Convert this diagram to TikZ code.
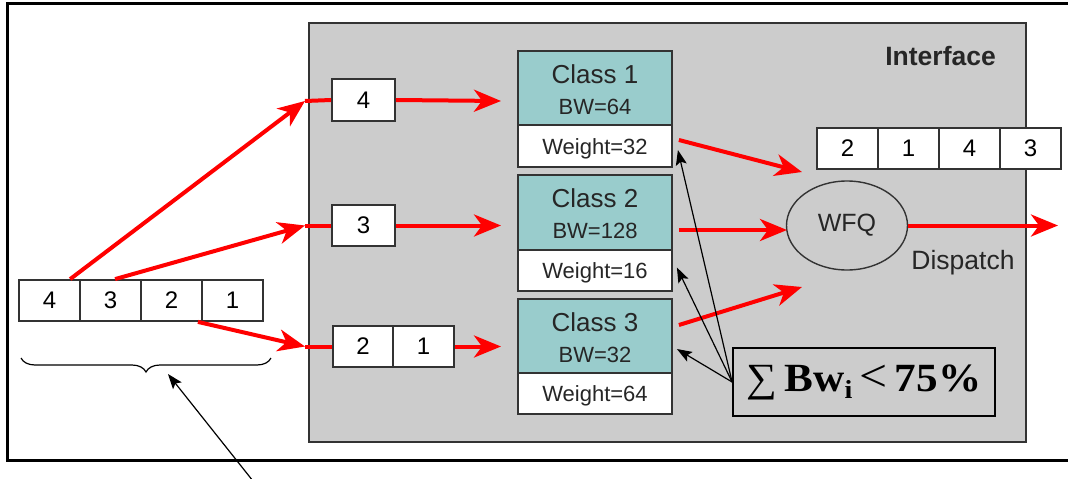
\documentclass[tikz,border=0pt]{standalone}
\usepackage{fontspec}
\setmainfont{Liberation Sans}
\newfontfamily\sumfont{Liberation Serif}
\usetikzlibrary{arrows.meta,decorations.pathreplacing,shapes.geometric,calc}
\definecolor{ifgray}{HTML}{CCCCCC}
\definecolor{teal2}{HTML}{99CCCC}
\definecolor{bord}{HTML}{333333}
\begin{document}
\begin{tikzpicture}[x=1pt,y=-1pt,
  cell/.style={draw=bord,line width=1.8pt,fill=white,inner sep=0pt,minimum width=61pt,minimum height=41pt,font=\fontsize{24}{26}\selectfont},
  tealbox/.style={draw=bord,line width=1.8pt,fill=teal2,inner sep=0pt,minimum width=154pt},
  wbox/.style={draw=bord,line width=1.8pt,fill=white,inner sep=0pt,minimum width=154pt,minimum height=41pt},
  ctext/.style={anchor=base,inner sep=0pt,font=\fontsize{26}{28}\selectfont,text=black!85},
  stext/.style={anchor=base,inner sep=0pt,font=\fontsize{22}{24}\selectfont,text=black!85},
  redarrow/.style={draw=red,line width=4pt,-{Stealth[length=27pt,width=22pt,inset=8pt]}},
  redline/.style={draw=red,line width=4pt},
  blackarrow/.style={draw=black,line width=1.2pt,-{Stealth[length=15pt,width=11pt,inset=3pt]}}
]
\useasboundingbox (0,0) rectangle (1068,479);
% outer frame (right side beyond the picture)
\draw[line width=2.5pt] (1068,3.5) -- (7.5,3.5) -- (7.5,460.5) -- (1068,460.5);
% interface box
\draw[draw=bord,line width=2pt,fill=ifgray] (309,22.5) rectangle (1026,441.5);
\node[anchor=base east,inner sep=0pt,font=\bfseries\fontsize{26.5}{28}\selectfont,text=black!85] (iflabel) at (996,65) {Interface};

% left queue
\node[cell] (q4) at (49.5,300.5) {4};
\node[cell] (q3) at (110.5,300.5) {3};
\node[cell] (q2) at (171.5,300.5) {2};
\node[cell] (q1) at (232.5,300.5) {1};

% brace and arrow to it
\draw[line width=1.2pt,decorate,decoration={brace,mirror,amplitude=14pt}] (21,358) -- (271,358);
\coordinate (btip) at (168,374);
\coordinate (bstart) at (253,481);
\draw[blackarrow] (bstart) -- (btip);

% small queues inside
\node[cell,minimum width=63pt,minimum height=42pt] (b4) at (363.5,100) {4};
\node[cell,minimum width=63pt] (b3) at (363.5,225.5) {3};
\node[cell,minimum width=60pt] (b2) at (363,346.5) {2};
\node[cell,minimum width=61pt] (b1) at (423.5,346.5) {1};

\coordinate (e1) at (305,101);
\coordinate (e2) at (305,225.5);
\coordinate (e3) at (305,346.5);

% class boxes
\node[tealbox,minimum height=74pt] (c1) at (595,88) {};
\node[wbox,minimum height=42pt] (w1) at (595,146) {};
\node[ctext] (c1t) at (595,83) {Class 1};
\node[stext] (c1b) at (595,114) {BW=64};
\node[stext] (w1t) at (595,154) {Weight=32};

\node[tealbox,minimum height=75pt] (c2) at (595,212.5) {};
\node[wbox] (w2) at (595,270.5) {};
\node[ctext] (c2t) at (595,207) {Class 2};
\node[stext] (c2b) at (595,238) {BW=128};
\node[stext] (w2t) at (595,278) {Weight=16};

\node[tealbox,minimum height=74pt] (c3) at (595,336) {};
\node[wbox] (w3) at (595,393.5) {};
\node[ctext] (c3t) at (595,331) {Class 3};
\node[stext] (c3b) at (595,362) {BW=32};
\node[stext] (w3t) at (595,401) {Weight=64};

% output queue
\node[cell] (o2) at (847.5,148.5) {2};
\node[cell] (o1) at (908.5,148.5) {1};
\node[cell] (o4) at (969.5,148.5) {4};
\node[cell] (o3) at (1030.5,148.5) {3};

% WFQ
\node[ellipse,draw=bord,line width=1.4pt,minimum width=121pt,minimum height=89pt,inner sep=0pt,font=\fontsize{25}{27}\selectfont,text=black!85] (wfq) at (847,225.5) {WFQ};
\node[anchor=base,inner sep=0pt,font=\fontsize{26.5}{28}\selectfont,text=black!85] (disp) at (963,269) {Dispatch};

% sum box
\node[draw=black,line width=1.8pt,minimum width=262pt,minimum height=68pt,inner sep=0pt] (sum) at (864,382)
  {\sumfont\scalebox{1.08}[1]{\fontsize{40}{42}\selectfont ∑\,\textbf{Bw}\raisebox{-7pt}{\fontsize{26}{26}\selectfont\textbf{i}}\,{\fontsize{46}{46}\selectfont<}\,\textbf{75\%}}};

% red arrows, left part
\draw[redarrow] (q4.46) -- (e1);
\draw[redarrow] (q3.78) -- (e2);
\draw[redarrow] (q2.-39) -- (e3);
\draw[redline] (e1) -- (b4.west);
\draw[redline] (e2) -- (b3.west);
\draw[redline] (e3) -- (b2.west);

\coordinate (a1) at (501,101);
\coordinate (a2) at (501,225.5);
\coordinate (a3) at (501,346.5);
\draw[redarrow] (b4.east) -- (a1);
\draw[redarrow] (b3.east) -- (a2);
\draw[redarrow] (b1.east) -- (a3);

% red arrows, right part
\coordinate (t1) at (802,172);
\coordinate (t2) at (787,230);
\coordinate (t3) at (802,287);
\coordinate (out) at (1058,225.5);
\draw[redarrow] ($(w1.east)+(6,-6)$) -- (t1);
\draw[redarrow] ($(c2.east)+(6,17.5)$) -- (t2);
\draw[redarrow] ($(c3.east)+(6,-11)$) -- (t3);
\draw[redarrow] (wfq.east) -- (out);

% black arrows from sum box
\draw[blackarrow] (sum.west) -- ($(w1.east)+(5,4)$);
\draw[blackarrow] (sum.west) -- ($(w2.east)+(4,-3)$);
\draw[blackarrow] (sum.west) -- ($(c3.east)+(4,13)$);
\end{tikzpicture}
\end{document}
